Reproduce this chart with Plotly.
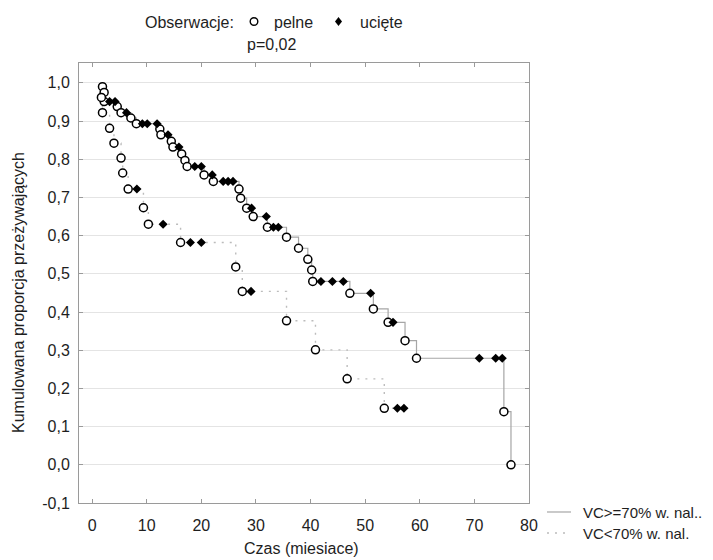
import plotly.graph_objects as go

# Kaplan-Meier survival, group VC >= 70% of predicted (solid line)
g1_event_t = [1.9, 2.2, 2.2, 4.6, 5.3, 7.1, 8.1, 12.4, 12.6, 14.5, 14.8, 16.4,
              17.0, 17.4, 20.5, 22.2, 26.9, 27.2, 28.3, 29.5, 32.1, 35.6, 37.8,
              39.5, 40.2, 40.4, 47.2, 51.5, 54.2, 57.3, 59.4, 75.4, 76.7]
g1_event_s = [0.990, 0.975, 0.951, 0.938, 0.922, 0.908, 0.893, 0.879, 0.864,
              0.847, 0.832, 0.814, 0.797, 0.781, 0.759, 0.742, 0.722, 0.698,
              0.672, 0.650, 0.622, 0.596, 0.567, 0.538, 0.510, 0.480, 0.449,
              0.408, 0.373, 0.325, 0.279, 0.139, 0.0]
g1_cens_t = [3.2, 4.2, 6.3, 9.2, 10.1, 11.9, 13.9, 15.9, 18.8, 20.0, 22.0, 24.0,
             24.9, 25.8, 29.2, 31.9, 33.2, 34.1, 41.9, 44.0, 46.0, 51.0, 55.1,
             70.9, 73.9, 75.1]

# Kaplan-Meier survival, group VC < 70% of predicted (dotted line)
g2_event_t = [1.7, 1.9, 3.2, 4.0, 5.3, 5.6, 6.6, 9.4, 10.3, 16.2, 26.3, 27.5,
              35.6, 40.9, 46.7, 53.5]
g2_event_s = [0.962, 0.922, 0.881, 0.842, 0.803, 0.764, 0.722, 0.673, 0.630,
              0.582, 0.518, 0.454, 0.377, 0.301, 0.225, 0.148]
g2_cens_t = [8.2, 13.0, 18.0, 20.0, 29.1, 55.9, 57.1]

group_names = ["VC>=70% w. nal..", "VC<70% w. nal."]
x_ticks = [0, 10, 20, 30, 40, 50, 60, 70, 80]
y_ticks = [-0.1, 0.0, 0.1, 0.2, 0.3, 0.4, 0.5, 0.6, 0.7, 0.8, 0.9, 1.0]
y_tick_text = ["-0,1", "0,0", "0,1", "0,2", "0,3", "0,4", "0,5", "0,6",
               "0,7", "0,8", "0,9", "1,0"]
p_value_text = "p=0,02"

FONT = "Liberation Sans, Arial, sans-serif"
TXT = "#1e1e1e"

# plot-area geometry (pixels) used to place the paper-referenced decorations
W, H = 713, 560
ML, MR, MT, MB = 79, 184, 63, 57
PW, PH = W - ML - MR, H - MT - MB


def px(x):
    return (x - ML) / PW


def py(y):
    return (H - MB - y) / PH


def km_path(event_t, event_s, end_t):
    xs = [event_t[0]] + list(event_t) + [end_t]
    ys = [1.0] + list(event_s) + [event_s[-1]]
    return xs, ys


def surv_at(t, event_t, event_s):
    s = 1.0
    for et, es in zip(event_t, event_s):
        if et <= t:
            s = es
    return s


fig = go.Figure()

groups = [
    (g1_event_t, g1_event_s, g1_cens_t, dict(color="#a6a6a6", width=1.2, dash="solid")),
    (g2_event_t, g2_event_s, g2_cens_t, dict(color="#bcbcbc", width=1.4, dash="2px,6px")),
]

for name, (et, es, ct, line) in zip(group_names, groups):
    end_t = max(list(et) + list(ct))
    xs, ys = km_path(et, es, end_t)
    fig.add_trace(go.Scatter(x=xs, y=ys, mode="lines", line_shape="hv",
                             line=line, name=name, showlegend=False,
                             hoverinfo="skip"))

for name, (et, es, ct, line) in zip(group_names, groups):
    cs = [surv_at(t, et, es) for t in ct]
    fig.add_trace(go.Scatter(x=et, y=es, mode="markers", name="pelne",
                             showlegend=False,
                             marker=dict(symbol="circle", size=8, color="white",
                                         line=dict(color="black", width=1.5))))
    fig.add_trace(go.Scatter(x=ct, y=cs, mode="markers", name="ucięte",
                             showlegend=False,
                             marker=dict(symbol="diamond", size=7, color="black",
                                         line=dict(width=0))))

axis_common = dict(
    showline=True, linecolor="#9a9a9a", linewidth=1, mirror="allticks",
    ticks="inside", ticklen=4, tickcolor="#9a9a9a", zeroline=False,
    tickfont=dict(family=FONT, size=16, color=TXT),
)

fig.update_xaxes(range=[-2.4, 80], tickvals=x_ticks, showgrid=False,
                 ticklabelstandoff=8, **axis_common)
fig.update_yaxes(range=[-0.1, 1.052], tickvals=y_ticks, ticktext=y_tick_text,
                 showgrid=True, gridcolor="#e4e4e4", gridwidth=1,
                 ticklabelstandoff=5, **axis_common)

ann = []
ann.append(dict(text="Czas (miesiace)", x=px(301), y=py(548), xanchor="center",
                yanchor="middle", font=dict(size=16)))
ann.append(dict(text="Kumulowana proporcja przeżywających", x=px(18), y=py(293),
                xanchor="center", yanchor="middle", textangle=-90,
                font=dict(size=16)))
ann.append(dict(text="Obserwacje:", x=px(143), y=py(22.5), xanchor="left",
                yanchor="middle", font=dict(size=16)))
ann.append(dict(text="pelne", x=px(272), y=py(22.5), xanchor="left",
                yanchor="middle", font=dict(size=16)))
ann.append(dict(text="ucięte", x=px(358), y=py(22.5), xanchor="left",
                yanchor="middle", font=dict(size=16)))
ann.append(dict(text=p_value_text, x=px(245), y=py(45), xanchor="left",
                yanchor="middle", font=dict(size=16)))
ann.append(dict(text=group_names[0], x=px(581), y=py(512), xanchor="left",
                yanchor="middle", font=dict(size=15)))
ann.append(dict(text=group_names[1], x=px(581), y=py(533), xanchor="left",
                yanchor="middle", font=dict(size=15)))
for a in ann:
    a.update(xref="paper", yref="paper", showarrow=False)
    a["font"].update(family=FONT, color=TXT)

shapes = [
    # observation-type keys
    dict(type="circle", xref="paper", yref="paper", xsizemode="pixel",
         ysizemode="pixel", xanchor=px(254), yanchor=py(21.5),
         x0=-3.8, x1=3.8, y0=-3.8, y1=3.8,
         line=dict(color="black", width=1.4), fillcolor="white"),
    dict(type="path", xref="paper", yref="paper", xsizemode="pixel",
         ysizemode="pixel", xanchor=px(338.5), yanchor=py(21.5),
         path="M 0 4.5 L 3.5 0 L 0 -4.5 L -3.5 0 Z",
         line=dict(width=0), fillcolor="black"),
    # group line keys
    dict(type="line", xref="paper", yref="paper", x0=px(547), x1=px(571),
         y0=py(512), y1=py(512), line=groups[0][3]),
    dict(type="line", xref="paper", yref="paper", x0=px(547), x1=px(571),
         y0=py(533), y1=py(533), line=groups[1][3]),
]

fig.update_layout(
    width=W, height=H, autosize=False,
    margin=dict(l=ML, r=MR, t=MT, b=MB, pad=0),
    paper_bgcolor="white", plot_bgcolor="white",
    font=dict(family=FONT, size=16, color=TXT),
    annotations=ann, shapes=shapes, showlegend=False,
)

fig.write_html("out.html")
